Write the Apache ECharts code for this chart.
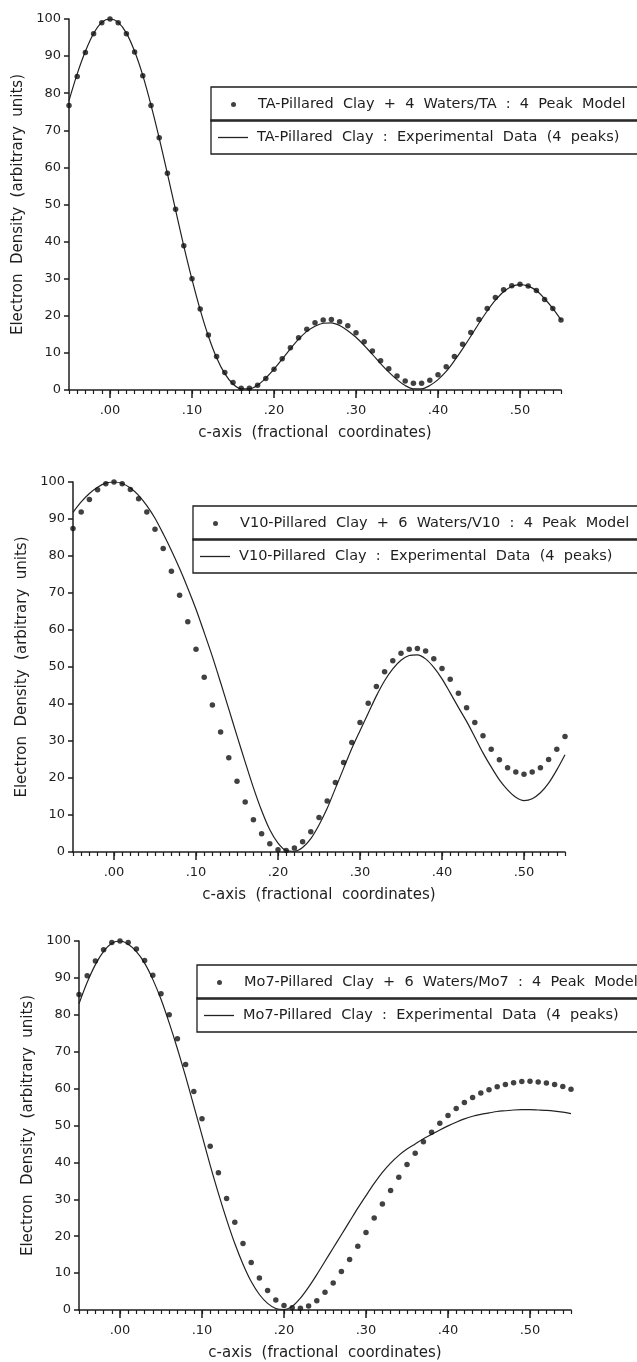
<!DOCTYPE html>
<html>
<head>
<meta charset="utf-8">
<script src="https://cdn.jsdelivr.net/npm/echarts@6/dist/echarts.min.js"></script>
<style>
  html, body { margin: 0; padding: 0; background: #fff; }
  #chart { width: 637px; height: 1362px; }
</style>
</head>
<body>
<div id="chart"></div>
<script>
// c-axis sample positions (fractional coordinates)
var cAxis = [-0.05, -0.04, -0.03, -0.02, -0.01, 0.00, 0.01, 0.02, 0.03, 0.04,
  0.05, 0.06, 0.07, 0.08, 0.09, 0.10, 0.11, 0.12, 0.13, 0.14,
  0.15, 0.16, 0.17, 0.18, 0.19, 0.20, 0.21, 0.22, 0.23, 0.24,
  0.25, 0.26, 0.27, 0.28, 0.29, 0.30, 0.31, 0.32, 0.33, 0.34,
  0.35, 0.36, 0.37, 0.38, 0.39, 0.40, 0.41, 0.42, 0.43, 0.44,
  0.45, 0.46, 0.47, 0.48, 0.49, 0.50, 0.51, 0.52, 0.53, 0.54, 0.55];

// TA panel
var taModel = [76.7, 84.5, 91.0, 96.0, 99.0, 100, 99.0, 96.0, 91.1, 84.7,
  76.7, 68.0, 58.4, 48.7, 38.9, 30.0, 21.8, 14.8, 9.0, 4.7,
  2.0, 0.45, 0.45, 1.3, 3.1, 5.6, 8.4, 11.4, 14.1, 16.4,
  18.1, 18.9, 19.0, 18.4, 17.3, 15.4, 13.0, 10.5, 7.9, 5.7,
  3.8, 2.4, 1.8, 1.8, 2.6, 4.1, 6.3, 9.0, 12.3, 15.5,
  19.0, 22.0, 24.9, 27.0, 28.1, 28.5, 28.0, 26.8, 24.4, 22.0, 18.9];
var taExp = [78.0, 85.2, 91.3, 96.1, 99.1, 100, 99.1, 96.2, 91.3, 84.8,
  76.8, 67.9, 58.3, 48.5, 38.8, 29.8, 21.6, 14.5, 8.7, 4.4,
  1.6, 0.3, 0.3, 1.3, 3.2, 5.6, 8.3, 11.1, 13.7, 15.8,
  17.2, 18.0, 18.1, 17.4, 16.0, 14.2, 12.0, 9.6, 7.1, 4.8,
  2.8, 1.2, 0.3, 0.3, 1.2, 2.8, 5.0, 7.9, 11.1, 14.5,
  18.0, 21.3, 24.2, 26.5, 27.9, 28.4, 28.0, 26.8, 24.6, 22.0, 18.9];

// V10 panel
var v10Model = [87.4, 91.9, 95.3, 97.9, 99.5, 100, 99.5, 98.0, 95.5, 91.9,
  87.2, 82.0, 75.9, 69.4, 62.2, 54.8, 47.2, 39.7, 32.4, 25.5,
  19.1, 13.5, 8.7, 4.9, 2.2, 0.6, 0.4, 1.1, 2.8, 5.5,
  9.3, 13.8, 18.8, 24.2, 29.6, 35.0, 40.2, 44.7, 48.7, 51.7,
  53.7, 54.8, 55.0, 54.3, 52.2, 49.6, 46.7, 42.9, 39.0, 35.0,
  31.4, 27.8, 24.9, 22.8, 21.6, 21.0, 21.6, 22.8, 25.0, 27.8, 31.2];
var v10Exp = [91.8, 94.6, 96.9, 98.6, 99.7, 100, 99.6, 98.4, 96.4, 93.6,
  90.2, 86.0, 81.5, 76.6, 71.3, 65.6, 59.3, 52.8, 45.8, 38.6,
  31.4, 24.3, 17.4, 11.2, 6.0, 2.4, 0.4, 0.2, 1.2, 3.6,
  7.3, 11.8, 17.2, 22.6, 28.0, 32.8, 37.5, 42.2, 46.3, 49.5,
  51.8, 53.1, 53.3, 52.2, 49.9, 46.8, 43.0, 39.1, 35.3, 31.1,
  26.8, 23.0, 19.5, 16.8, 14.8, 13.9, 14.4, 16.0, 18.6, 22.2, 26.3];

// Mo7 panel
var mo7Model = [85.5, 90.6, 94.6, 97.6, 99.6, 100, 99.6, 97.8, 94.7, 90.7,
  85.7, 80.0, 73.5, 66.5, 59.2, 51.8, 44.4, 37.2, 30.2, 23.8,
  18.0, 12.9, 8.7, 5.3, 2.7, 1.2, 0.6, 0.5, 1.1, 2.5,
  4.8, 7.3, 10.4, 13.7, 17.3, 21.0, 24.9, 28.7, 32.4, 36.0,
  39.4, 42.5, 45.6, 48.2, 50.6, 52.7, 54.6, 56.2, 57.6, 58.8,
  59.7, 60.5, 61.1, 61.6, 61.9, 62.0, 61.8, 61.5, 61.1, 60.6, 59.8];
var mo7Exp = [83.0, 88.8, 93.6, 97.2, 99.4, 100, 99.1, 97.1, 94.0, 89.6,
  84.2, 77.8, 70.8, 63.3, 55.3, 47.3, 39.2, 31.6, 24.5, 18.0,
  12.4, 7.7, 4.2, 1.8, 0.4, 0.1, 1.0, 3.2, 6.2, 9.6,
  13.2, 16.8, 20.4, 24.0, 27.6, 31.0, 34.3, 37.3, 39.8, 41.9,
  43.6, 45.0, 46.4, 47.6, 48.8, 49.9, 50.9, 51.8, 52.5, 53.0,
  53.4, 53.8, 54.0, 54.2, 54.3, 54.3, 54.2, 54.1, 53.9, 53.6, 53.2];

var modelNames = [
  'TA-Pillared  Clay  +  4  Waters/TA  :  4  Peak  Model',
  'V10-Pillared  Clay  +  6  Waters/V10  :  4  Peak  Model',
  'Mo7-Pillared  Clay  +  6  Waters/Mo7  :  4  Peak  Model'
];
var expNames = [
  'TA-Pillared  Clay  :  Experimental  Data  (4  peaks)',
  'V10-Pillared  Clay  :  Experimental  Data  (4  peaks)',
  'Mo7-Pillared  Clay  :  Experimental  Data  (4  peaks)'
];

var chart = echarts.init(document.getElementById('chart'));
var ink = '#1e1e1e';
var font = 'DejaVu Sans';

var grids = [
  { left: 69, top: 19, width: 492, height: 371 },
  { left: 73, top: 482, width: 492, height: 370 },
  { left: 79, top: 941, width: 492, height: 371 }
];
var legendPos = [
  { left: 211, top: 87 },
  { left: 193, top: 506 },
  { left: 197, top: 965 }
];
var modelSets = [taModel, v10Model, mo7Model];
var expSets = [taExp, v10Exp, mo7Exp];

function pairs(arr) {
  return cAxis.map(function (c, i) { return [c, arr[i]]; });
}
// every tenth sample (0.00, 0.10, ...) carries a major tick and a label
function isMajor(index) {
  return index >= 5 && (index - 5) % 10 === 0;
}

var xAxes = [], yAxes = [], series = [], legends = [];

// value axes: carry the data and the 0.01 minor ticks
grids.forEach(function (g, k) {
  xAxes.push({
    type: 'value', gridIndex: k, min: -0.05, max: 0.55, interval: 0.01,
    name: 'c-axis  (fractional  coordinates)', nameLocation: 'middle', nameGap: 36,
    nameTextStyle: { color: ink, fontSize: 15, fontFamily: font },
    axisLine: { show: true, onZero: false, lineStyle: { color: ink, width: 1.5 } },
    axisTick: { show: true, length: 4, lineStyle: { color: ink, width: 1.2 } },
    axisLabel: { show: false },
    splitLine: { show: false }
  });
});
// category overlay axes: major ticks + labels at .00, .10, ...
grids.forEach(function (g, k) {
  xAxes.push({
    type: 'category', gridIndex: k, position: 'bottom', boundaryGap: false,
    data: cAxis,
    axisLine: { show: false, onZero: false },
    axisTick: { show: true, length: 8, interval: isMajor, lineStyle: { color: ink, width: 1.5 } },
    axisLabel: {
      interval: isMajor, color: ink, fontSize: 13, fontFamily: font, margin: 14,
      formatter: function (v) { return parseFloat(v).toFixed(2).replace(/^0/, ''); }
    },
    splitLine: { show: false }
  });
});
grids.forEach(function (g, k) {
  yAxes.push({
    type: 'value', gridIndex: k, min: 0, max: 100, interval: 10, position: 'left',
    name: 'Electron  Density  (arbitrary  units)', nameLocation: 'middle', nameGap: 36,
    nameTextStyle: { color: ink, fontSize: 15, fontFamily: font },
    axisLine: { show: true, onZero: false, lineStyle: { color: ink, width: 1.5 } },
    axisTick: { show: true, length: 5, lineStyle: { color: ink, width: 1.5 } },
    axisLabel: { color: ink, fontSize: 13, fontFamily: font, margin: 8 },
    splitLine: { show: false }
  });

  series.push({
    name: modelNames[k], type: 'scatter', xAxisIndex: k, yAxisIndex: k,
    symbol: 'circle', symbolSize: 5.5, itemStyle: { color: '#111' },
    data: pairs(modelSets[k]), z: 3
  });
  series.push({
    name: expNames[k], type: 'line', xAxisIndex: k, yAxisIndex: k,
    symbol: 'none', smooth: 0.3, itemStyle: { color: '#222' },
    lineStyle: { color: '#222', width: 1.2 },
    data: pairs(expSets[k]), z: 2
  });

  var lp = legendPos[k];
  var common = {
    orient: 'horizontal', left: lp.left,
    borderColor: ink, borderWidth: 1.3, borderRadius: 0,
    selectedMode: false, symbolKeepAspect: false
  };
  legends.push(Object.assign({}, common, {
    top: lp.top, padding: [10, 90, 9, 20],
    itemWidth: 5, itemHeight: 5,
    data: [{ name: modelNames[k], icon: 'circle', itemStyle: { color: '#111' } }],
    textStyle: { color: ink, fontSize: 14.5, fontFamily: font, lineHeight: 14, padding: [0, 0, 0, 17] }
  }));
  legends.push(Object.assign({}, common, {
    top: lp.top + 33, padding: [10, 90, 9, 7],
    itemWidth: 30, itemHeight: 1.3,
    data: [{ name: expNames[k], icon: 'rect', itemStyle: { color: '#222' } }],
    textStyle: { color: ink, fontSize: 14.5, fontFamily: font, lineHeight: 14, padding: [0, 0, 0, 4] }
  }));
});

var option = {
  backgroundColor: '#fff',
  animation: false,
  grid: grids,
  xAxis: xAxes,
  yAxis: yAxes,
  legend: legends,
  series: series
};
chart.setOption(option);
</script>
</body>
</html>
